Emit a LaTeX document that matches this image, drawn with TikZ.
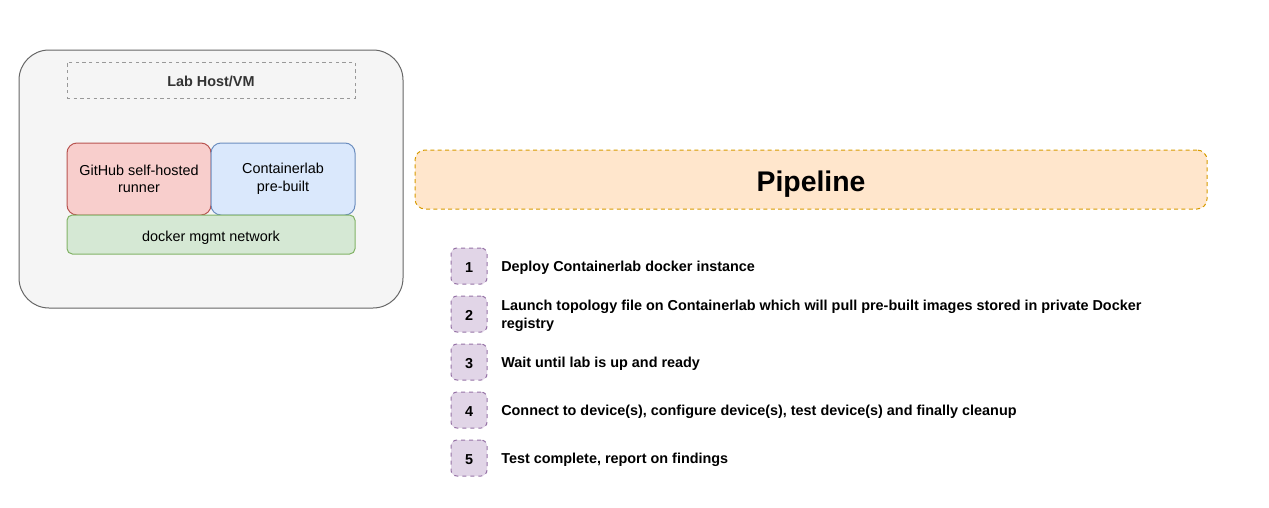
\documentclass[tikz,border=0pt]{standalone}
\usepackage{fontspec}
\setmainfont{Liberation Sans}
\usepackage{xcolor}
\definecolor{hostfill}{HTML}{F5F5F5}
\definecolor{hostline}{HTML}{666666}
\definecolor{labline}{HTML}{999999}
\definecolor{labtext}{HTML}{333333}
\definecolor{runfill}{HTML}{F8CECC}
\definecolor{runline}{HTML}{B85450}
\definecolor{clabfill}{HTML}{DAE8FC}
\definecolor{clabline}{HTML}{6C8EBF}
\definecolor{netfill}{HTML}{D5E8D4}
\definecolor{netline}{HTML}{82B366}
\definecolor{pipefill}{HTML}{FFE6CC}
\definecolor{pipeline}{HTML}{D79B00}
\definecolor{stepfill}{HTML}{E1D5E7}
\definecolor{stepline}{HTML}{9673A6}
\tikzset{
  inbox/.style={draw, rounded corners=7.5pt, line width=0.75pt, inner sep=0pt,
    minimum width=108pt, minimum height=54pt, align=center,
    font=\fontsize{10.8}{13.2}\selectfont},
  stepbox/.style={draw=stepline, fill=stepfill, dash pattern=on 3pt off 3pt,
    rounded corners=4.5pt, line width=0.75pt, inner sep=0pt,
    minimum width=27pt, minimum height=27pt, text height=9.9pt, text depth=0pt,
    font=\fontsize{10.8}{13.5}\selectfont\bfseries},
  steptext/.style={anchor=west, inner sep=0pt, align=left,
    font=\fontsize{10.8}{13.5}\selectfont\bfseries}
}
\begin{document}
\begin{tikzpicture}[x=0.75pt,y=0.75pt,yscale=-1,xscale=1]
\useasboundingbox (0,0) rectangle (1269,507);

%Rounded Rect: host
\node (host) [draw=hostline, fill=hostfill, rounded corners=22.5pt, line width=0.75pt,
  minimum width=288pt, minimum height=193.5pt, inner sep=0pt] at (211,179) {};
%Rect: lab host title
\node (lab) [draw=labline, dash pattern=on 2.5pt off 2.5pt, line width=0.75pt,
  minimum width=216pt, minimum height=27pt, inner sep=0pt, text=labtext,
  text height=9.9pt, text depth=0pt,
  font=\fontsize{10.8}{13.5}\selectfont\bfseries] at (211,80) {Lab Host/VM};
%Rounded Rect: runner
\node (runner) [inbox, draw=runline, fill=runfill] at (139,179) {GitHub self-hosted\\runner};
%Rounded Rect: containerlab
\node (clab) [inbox, draw=clabline, fill=clabfill] at (283,179) {Containerlab\\pre-built};
%Rounded Rect: network
\node (net) [inbox, draw=netline, fill=netfill, rounded corners=4pt,
  minimum width=216pt, minimum height=29.25pt, text height=9.9pt, text depth=0pt]
  at (211,234.5) {docker mgmt network};

%Rounded Rect: pipeline
\node (pipe) [draw=pipeline, fill=pipefill, dash pattern=on 3pt off 2.5pt,
  rounded corners=7.5pt, line width=0.75pt, inner sep=0pt,
  minimum width=594pt, minimum height=44.25pt, text height=18.3pt, text depth=0pt,
  font=\fontsize{21.3}{25}\selectfont\bfseries] at (811,179.5) {Pipeline};

% Steps
\node (s1) [stepbox] at (469,266) {1};
\node (s2) [stepbox] at (469,314) {2};
\node (s3) [stepbox] at (469,362) {3};
\node (s4) [stepbox] at (469,410) {4};
\node (s5) [stepbox] at (469,458) {5};

% Text Node
\node (t1) [steptext] at (501,268) {Deploy Containerlab docker instance};
% Text Node
\node (t2) [steptext] at (501,315.5) {Launch topology file on Containerlab which will pull pre-built images stored in private Docker\\registry};
% Text Node
\node (t3) [steptext] at (501,364) {Wait until lab is up and ready};
% Text Node
\node (t4) [steptext] at (501,412) {Connect to device(s), configure device(s), test device(s) and finally cleanup};
% Text Node
\node (t5) [steptext] at (501,460) {Test complete, report on findings};

\end{tikzpicture}
\end{document}
